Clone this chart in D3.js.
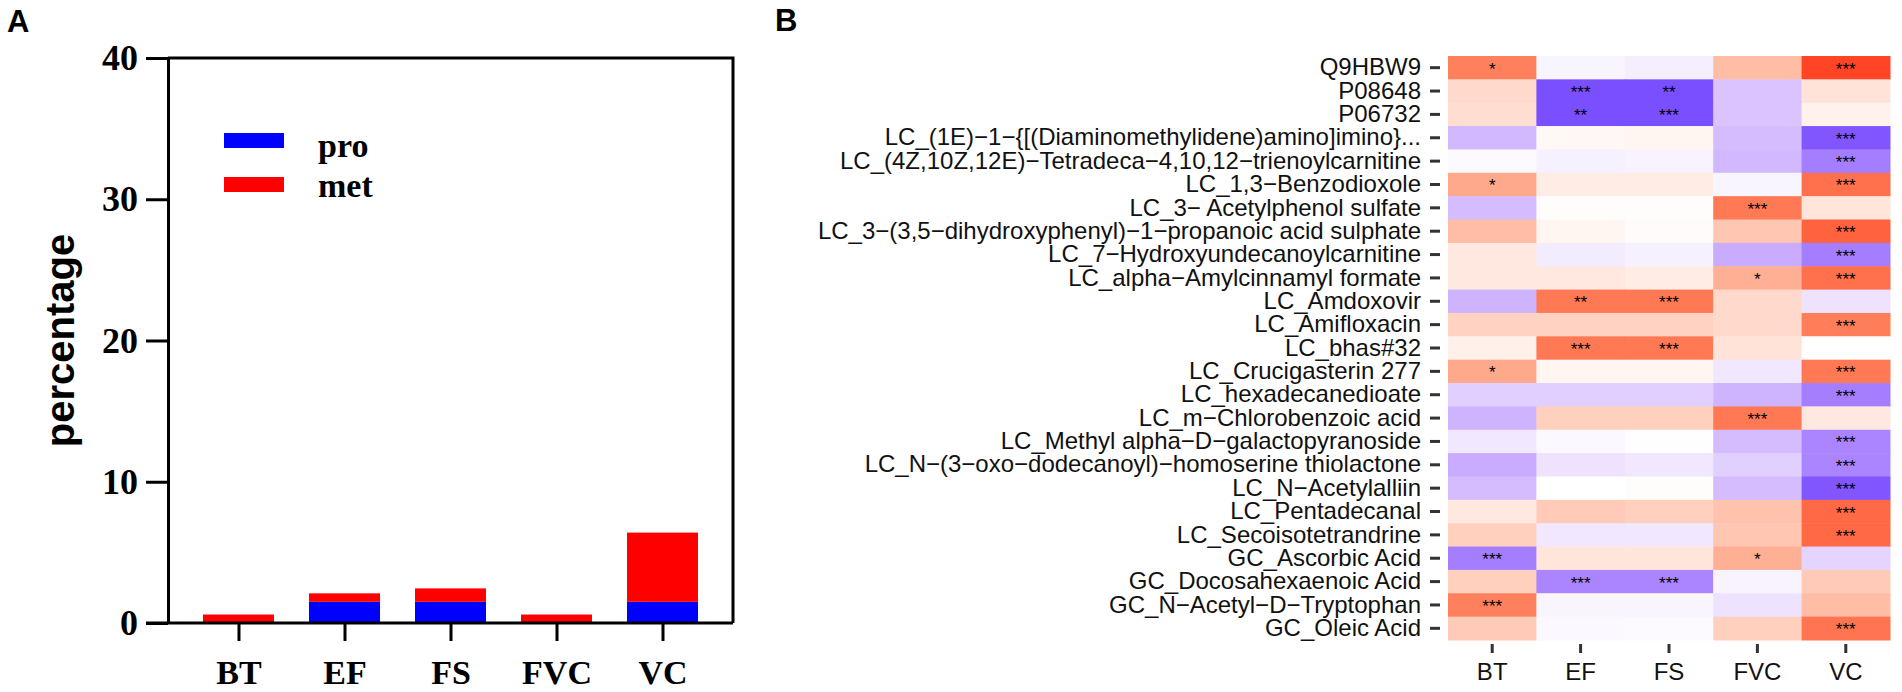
<!DOCTYPE html>
<html>
<head>
<meta charset="utf-8">
<script src="https://cdn.jsdelivr.net/npm/d3@7"></script>
<style>
  body { margin: 0; background: #fff; }
  svg { display: block; }
</style>
</head>
<body>
<svg width="1902" height="692"></svg>
<script>
// panel A data
var groups = ["BT", "EF", "FS", "FVC", "VC"];
var proVals = [0, 1.5, 1.5, 0, 1.5];
var metVals = [0.6, 0.6, 0.95, 0.6, 4.9];
var yTicks = [0, 10, 20, 30, 40];

// panel B data
var features = [
  "Q9HBW9",
  "P08648",
  "P06732",
  "LC_(1E)\u22121\u2212{[(Diaminomethylidene)amino]imino}...",
  "LC_(4Z,10Z,12E)\u2212Tetradeca\u22124,10,12\u2212trienoylcarnitine",
  "LC_1,3\u2212Benzodioxole",
  "LC_3\u2212 Acetylphenol sulfate",
  "LC_3\u2212(3,5\u2212dihydroxyphenyl)\u22121\u2212propanoic acid sulphate",
  "LC_7\u2212Hydroxyundecanoylcarnitine",
  "LC_alpha\u2212Amylcinnamyl formate",
  "LC_Amdoxovir",
  "LC_Amifloxacin",
  "LC_bhas#32",
  "LC_Crucigasterin 277",
  "LC_hexadecanedioate",
  "LC_m\u2212Chlorobenzoic acid",
  "LC_Methyl alpha\u2212D\u2212galactopyranoside",
  "LC_N\u2212(3\u2212oxo\u2212dodecanoyl)\u2212homoserine thiolactone",
  "LC_N\u2212Acetylalliin",
  "LC_Pentadecanal",
  "LC_Secoisotetrandrine",
  "GC_Ascorbic Acid",
  "GC_Docosahexaenoic Acid",
  "GC_N\u2212Acetyl\u2212D\u2212Tryptophan",
  "GC_Oleic Acid"
];
// correlation per feature, columns BT EF FS FVC VC
var corr = [
  [0.65, -0.04, -0.07, 0.35, 0.88],
  [0.2, -0.75, -0.75, -0.25, 0.15],
  [0.18, -0.75, -0.75, -0.25, 0.07],
  [-0.3, 0.04, 0.05, -0.28, -0.72],
  [-0.02, -0.06, -0.05, -0.3, -0.55],
  [0.45, 0.1, 0.1, -0.04, 0.72],
  [-0.28, 0.01, 0.01, 0.68, 0.14],
  [0.35, 0.05, 0.02, 0.3, 0.78],
  [0.12, -0.08, -0.06, -0.35, -0.55],
  [0.12, 0.12, 0.1, 0.42, 0.72],
  [-0.32, 0.68, 0.68, 0.2, -0.12],
  [0.24, 0.24, 0.24, 0.2, 0.66],
  [0.08, 0.68, 0.68, 0.15, 0.0],
  [0.45, 0.05, 0.05, -0.1, 0.68],
  [-0.2, -0.2, -0.2, -0.32, -0.55],
  [-0.32, 0.25, 0.25, 0.68, 0.12],
  [-0.1, -0.03, -0.01, -0.28, -0.52],
  [-0.35, -0.12, -0.1, -0.2, -0.52],
  [-0.28, 0.0, 0.01, -0.28, -0.72],
  [0.12, 0.28, 0.25, 0.32, 0.75],
  [0.25, -0.1, -0.1, 0.3, 0.75],
  [-0.55, 0.14, 0.14, 0.42, -0.18],
  [0.25, -0.52, -0.52, -0.05, 0.28],
  [0.65, -0.04, -0.04, -0.12, 0.35],
  [0.28, -0.03, -0.02, 0.25, 0.7]
];
var stars = [
  ["*", "", "", "", "***"],
  ["", "***", "**", "", ""],
  ["", "**", "***", "", ""],
  ["", "", "", "", "***"],
  ["", "", "", "", "***"],
  ["*", "", "", "", "***"],
  ["", "", "", "***", ""],
  ["", "", "", "", "***"],
  ["", "", "", "", "***"],
  ["", "", "", "*", "***"],
  ["", "**", "***", "", ""],
  ["", "", "", "", "***"],
  ["", "***", "***", "", ""],
  ["*", "", "", "", "***"],
  ["", "", "", "", "***"],
  ["", "", "", "***", ""],
  ["", "", "", "", "***"],
  ["", "", "", "", "***"],
  ["", "", "", "", "***"],
  ["", "", "", "", "***"],
  ["", "", "", "", "***"],
  ["***", "", "", "*", ""],
  ["", "***", "***", "", ""],
  ["***", "", "", "", ""],
  ["", "", "", "", "***"]
];

function main() {
  var svg = d3.select("svg");
  var serif = "'Liberation Serif', 'Times New Roman', serif";
  var sans = "'Liberation Sans', Arial, Helvetica, sans-serif";

  // ---------- panel A ----------
  var left = 168, right = 733, top = 58, bottom = 623;
  var xA = d3.scalePoint().domain(groups).range([left, right]).padding(0.665);
  var yA = d3.scaleLinear().domain([0, 40]).range([bottom, top]);

  svg.append("text")
     .attr("x", 7).attr("y", 32)
     .attr("font-family", sans).attr("font-weight", "bold").attr("font-size", "31px")
     .text("A");

  var rows = groups.map(function(g, i) { return {group: g, pro: proVals[i], met: metVals[i]}; });
  var series = d3.stack().keys(["pro", "met"])(rows);
  var fills = {pro: "#0000ff", met: "#ff0000"};

  svg.append("g").selectAll("g")
     .data(series)
     .enter().append("g")
     .attr("fill", function(d) { return fills[d.key]; })
     .selectAll("rect")
     .data(function(d) { return d; })
     .enter().append("rect")
     .attr("x", function(d) { return xA(d.data.group) - 35.5; })
     .attr("width", 71)
     .attr("y", function(d) { return yA(d[1]); })
     .attr("height", function(d) { return yA(d[0]) - yA(d[1]); });

  var yAxisA = svg.append("g")
     .attr("transform", "translate(" + left + ",0)")
     .call(d3.axisLeft(yA).tickValues(yTicks).tickSize(22).tickSizeOuter(0).tickPadding(8));
  var xAxisA = svg.append("g")
     .attr("transform", "translate(0," + bottom + ")")
     .call(d3.axisBottom(xA).tickSize(18).tickSizeOuter(0).tickPadding(19));
  [yAxisA, xAxisA].forEach(function(ax) {
    ax.selectAll("path, line").attr("stroke", "#000").attr("stroke-width", 3);
    ax.selectAll("text").attr("fill", "#000")
      .attr("font-family", serif).attr("font-weight", "bold").attr("font-size", "36px");
  });
  xAxisA.selectAll("text").attr("font-size", "34px");
  xAxisA.select(".domain").attr("d", "M" + (left - 22) + ",0H" + right);

  // top and right frame
  svg.append("path")
     .attr("d", "M" + left + "," + top + "H" + right + "V" + bottom)
     .attr("fill", "none").attr("stroke", "#000").attr("stroke-width", 3);

  svg.append("text")
     .attr("transform", "translate(74," + (top + bottom) / 2 + ") rotate(-90)")
     .attr("text-anchor", "middle")
     .attr("font-family", sans).attr("font-weight", "bold").attr("font-size", "40px")
     .text("percentage");

  // legend
  var legend = svg.append("g");
  [["pro", 133, 157], ["met", 177, 197]].forEach(function(l) {
    legend.append("rect").attr("x", 224).attr("y", l[1]).attr("width", 60).attr("height", 15)
          .attr("fill", fills[l[0]]);
    legend.append("text").attr("x", 318).attr("y", l[2])
          .attr("font-family", serif).attr("font-weight", "bold").attr("font-size", "34px")
          .text(l[0]);
  });

  // ---------- panel B ----------
  svg.append("text")
     .attr("x", 775).attr("y", 31)
     .attr("font-family", sans).attr("font-weight", "bold").attr("font-size", "31px")
     .text("B");

  var xB = d3.scaleBand().domain(groups).range([1448, 1890]);
  var yB = d3.scaleBand().domain(features).range([56, 640]);
  var color = d3.scaleLinear().domain([-1, 0, 1]).range(["blue", "white", "red"])
                .interpolate(d3.interpolateLab);

  var cells = [];
  features.forEach(function(f, i) {
    groups.forEach(function(g, j) {
      cells.push({feature: f, group: g, v: corr[i][j], s: stars[i][j]});
    });
  });

  var heat = svg.append("g");
  heat.selectAll("rect")
      .data(cells)
      .enter().append("rect")
      .attr("x", function(d) { return xB(d.group); })
      .attr("y", function(d) { return yB(d.feature); })
      .attr("width", xB.bandwidth() + 0.5)
      .attr("height", yB.bandwidth() + 0.5)
      .attr("fill", function(d) { return color(d.v); });

  heat.selectAll("text")
      .data(cells.filter(function(d) { return d.s; }))
      .enter().append("text")
      .attr("x", function(d) { return xB(d.group) + xB.bandwidth() / 2; })
      .attr("y", function(d) { return yB(d.feature) + yB.bandwidth() / 2 + 7; })
      .attr("text-anchor", "middle")
      .attr("font-family", sans).attr("font-size", "17px").attr("fill", "#000")
      .text(function(d) { return d.s; });

  var yAxisB = svg.append("g")
      .attr("transform", "translate(1440,0)")
      .call(d3.axisLeft(yB).tickSize(10).tickPadding(9));
  var xAxisB = svg.append("g")
      .attr("transform", "translate(0,644)")
      .call(d3.axisBottom(xB).tickSize(9).tickPadding(10));
  [yAxisB, xAxisB].forEach(function(ax) {
    ax.select(".domain").remove();
    ax.selectAll("line").attr("stroke", "#333").attr("stroke-width", 3);
    ax.selectAll("text").attr("fill", "#111")
      .attr("font-family", sans).attr("font-size", "24px");
  });
}

main();
</script>
</body>
</html>
